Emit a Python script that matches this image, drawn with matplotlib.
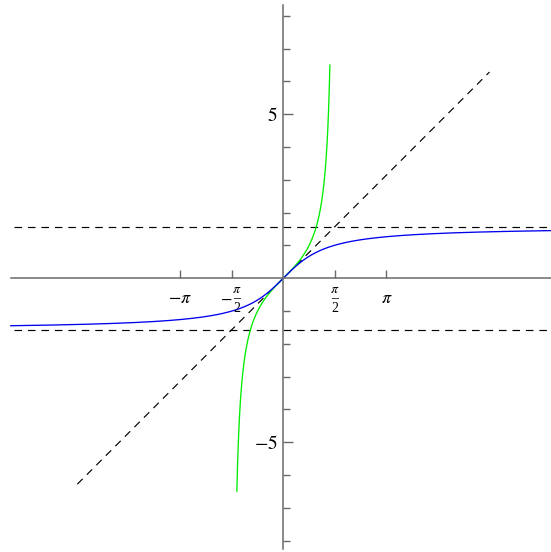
import numpy as np
import matplotlib.pyplot as plt

# plotted domains
tan_x_range = [-1.4181, 1.4181]      # tan(x) cut where |tan| reaches ~6.5
atan_x_range = [-8.31, 8.16]
diag_x_range = [-2 * np.pi, 2 * np.pi]
asymptotes = [np.pi / 2, -np.pi / 2]

# ticks
x_ticks = [-np.pi, -np.pi / 2, np.pi / 2, np.pi]
y_major = [-5, 5]
y_major_labels = [r"$-5$", r"$5$"]
y_minor = [-8, -7, -6, -4, -3, -2, -1, 1, 2, 3, 4, 6, 7, 8]

plt.rcParams["mathtext.fontset"] = "stix"
plt.rcParams["font.family"] = "Liberation Serif"

fig = plt.figure(figsize=(5.51, 5.52), dpi=100)
ax = fig.add_axes([0, 0, 1, 1])
ax.set_xlim(-8.64, 8.16)
ax.set_ylim(-8.35, 8.48)

# axes through the origin
for side in ("top", "right"):
    ax.spines[side].set_visible(False)
ax.spines["left"].set_position("zero")
ax.spines["bottom"].set_position("zero")
ax.spines["bottom"].set_bounds(-8.31, 8.16)
ax.spines["left"].set_bounds(-8.25, 8.33)
for side in ("left", "bottom"):
    ax.spines[side].set_color("#6a6a6a")
    ax.spines[side].set_linewidth(1.1)

ax.set_xticks(x_ticks)
ax.set_xticklabels([])
ax.set_yticks(y_major)
ax.set_yticklabels(y_major_labels, fontsize=14)
ax.set_yticks(y_minor, minor=True)
ax.tick_params(axis="x", direction="in", length=6, width=1, color="#6a6a6a")
ax.tick_params(axis="y", which="major", direction="in", length=7, width=1,
               color="#6a6a6a", pad=4)
ax.tick_params(axis="y", which="minor", direction="in", length=5, width=1,
               color="#6a6a6a")


def label(x, text, dx, dy, size, **kw):
    ax.annotate(text, xy=(x, 0), xytext=(dx, dy), textcoords="offset points",
                ha="center", va="center", fontsize=size, **kw)


# pi over 2, stacked in one text
PI_2 = "$\\pi$\n\u2013\n2"

# x tick labels
label(-np.pi, r"$-\pi$", 0, -14.4, 13)
label(-np.pi / 2, r"$-$", -4.2, -15.0, 12)
label(-np.pi / 2, PI_2, 3.5, -15.0, 10, multialignment="center", linespacing=0.62)
label(np.pi / 2, PI_2, 0, -15.0, 10, multialignment="center", linespacing=0.62)
label(np.pi, r"$\pi$", 0, -14.4, 13)

# dashed guides: y = x and the arctan asymptotes
dash = (0, (6.4, 5.0))
xd = np.array(diag_x_range)
ax.plot(xd, xd, color="black", lw=0.85, linestyle=dash)
for a in asymptotes:
    ax.plot([-8.2, 8.16], [a, a], color="black", lw=0.85, linestyle=dash)

# curves
xt = np.linspace(*tan_x_range, 600)
ax.plot(xt, np.tan(xt), color="#00ee00", lw=0.95)
xa = np.linspace(*atan_x_range, 600)
ax.plot(xa, np.arctan(xa), color="#0000ee", lw=0.95)

fig.savefig("out.png", dpi=100)
